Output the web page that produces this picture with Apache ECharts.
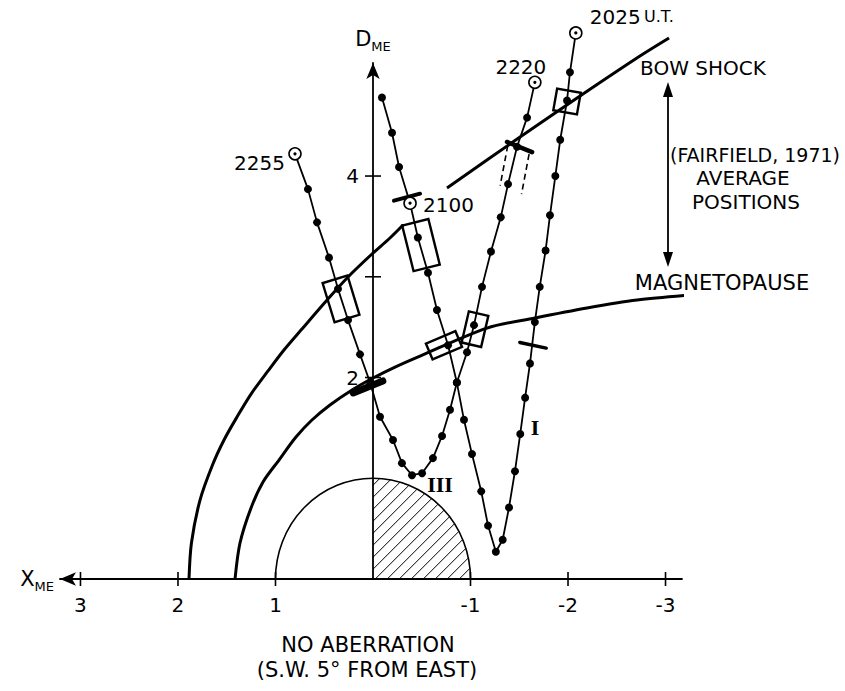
<!DOCTYPE html>
<html>
<head>
<meta charset="utf-8">
<script src="https://cdn.jsdelivr.net/npm/echarts@6.0.0/dist/echarts.min.js"></script>
<style>
html,body{margin:0;padding:0;background:#fff;}
#chart{width:845px;height:691px;}
</style>
</head>
<body>
<div id="chart"></div>
<script>
// ================= DATA (units: planet radii) =================
const xTickValues = [3, 2, 1, -1, -2, -3];
const yTickValues = [2, 3, 4];
const yLabelValues = [2, 4];

const planet = [[0, 0, 1]];  // centre X, centre D, radius

const bowShockLower = [[1.887,0],[1.862,0.357],[1.774,0.784],[1.646,1.132],[1.528,1.380],[1.395,1.608],
  [1.251,1.836],[1.077,2.065],[0.913,2.273],[0.738,2.471],[0.462,2.779],[0.256,2.998],[0.010,3.226],
  [-0.174,3.385],[-0.318,3.524]];
const bowShockUpper = [[-0.759,3.881],[-1.508,4.387],[-2.123,4.794],[-2.738,5.191],[-3.036,5.370]];
const magnetopause = [[1.415,0],[1.364,0.357],[1.251,0.705],[1.128,0.963],[0.964,1.181],[0.790,1.409],
  [0.626,1.578],[0.441,1.727],[0.215,1.876],[0.0,1.995],[-0.226,2.104],[-0.482,2.213],[-1.169,2.491],
  [-1.662,2.591],[-2.195,2.690],[-2.708,2.769],[-3.251,2.819]];

const trackI = [[-2.08,5.42],[-2.02,5.03],[-1.99,4.75],[-1.92,4.36],[-1.87,4.00],[-1.815,3.61],[-1.77,3.26],
  [-1.71,2.90],[-1.66,2.55],[-1.61,2.14],[-1.56,1.80],[-1.51,1.44],[-1.456,1.07],[-1.395,0.71],[-1.33,0.39],
  [-1.26,0.27],[-1.18,0.53],[-1.11,0.87],[-1.015,1.24],[-0.933,1.58],[-0.86,1.95],[-0.77,2.32],[-0.656,2.67],
  [-0.564,3.04],[-0.46,3.39],[-0.38,3.73],[-0.267,4.09],[-0.195,4.43],[-0.092,4.78]];
const trackIII = [[0.80,4.22],[0.667,3.87],[0.574,3.54],[0.451,3.19],[0.359,2.88],[0.256,2.57],[0.133,2.23],
  [0.03,1.95],[-0.072,1.61],[-0.205,1.38],[-0.297,1.15],[-0.40,1.03],[-0.503,1.05],[-0.615,1.20],[-0.708,1.42],
  [-0.79,1.68],[-0.86,1.95],[-0.964,2.25],[-1.036,2.52],[-1.118,2.90],[-1.21,3.25],[-1.31,3.59],[-1.385,3.92],
  [-1.477,4.29],[-1.58,4.58],[-1.66,4.93]];

const openCircles = [[-2.08,5.42],[-1.66,4.93],[0.80,4.22],[-0.38,3.73]];
const circleLabels = ['2025 U.T.', '2220', '2255', '2100'];

const crossingBoxes = [[0.328,2.78],[-0.492,3.315],[-1.99,4.74],[-0.728,2.32],[-1.046,2.48]];
const crossingBars = [[-0.349,3.79],[-1.641,2.32],[0.051,1.906],[-1.503,4.288]];

// ================= STYLE / LAYOUT =================
const FONT = 'DejaVu Sans';
const X_MIN = -3.169, X_MAX = 3.210, Y_MIN = 0, Y_MAX = 5.122;
const GRID = { left: 60, right: 163, top: 63, bottom: 112 };
const CHART_W = 845;
const gridW = CHART_W - GRID.left - GRID.right;
const yAxisOffset = -(X_MAX / (X_MAX - X_MIN)) * gridW;   // put the D axis at X = 0

const boxSizes = [[26,41],[27,47],[24,22],[32,17],[20,32]];
const boxAngles = [17, 14, -10, 23, -13];
const barLengths = [27, 27, 32, 27];
const barAngles = [15, -12, 22, -22];
const barWidths = [4, 3.5, 7, 4.5];
const barLegs = [null, null, null, [8, 40]];
const circleLabelPos = [[14,-16,'left'],[-14,-15,'center'],[-10,9,'right'],[13,2,'left']];

const isCircle = p => openCircles.some(c => c[0] === p[0] && c[1] === p[1]);

function planetRender(params, api) {
  const c = api.coord([api.value(0), api.value(1)]);
  const r = api.value(2);
  const left = api.coord([r, 0])[0], right = api.coord([-r, 0])[0];
  const rx = Math.abs(right - c[0]);
  const ry = Math.abs(api.coord([0, r])[1] - c[1]);
  const children = [{
    type: 'path',
    shape: { pathData: 'M ' + left + ' ' + c[1] + ' A ' + rx + ' ' + ry + ' 0 0 1 ' + right + ' ' + c[1] },
    style: { fill: 'none', stroke: '#000', lineWidth: 1.6 }
  }];
  const step = 12;
  for (let k = -ry + 7; k < rx; k += step) {
    let a0, b0;
    if (k >= 0) { a0 = k; b0 = 0; } else { a0 = 0; b0 = -k; }
    const A = 1/(rx*rx) + 1/(ry*ry), B = 2*k/(rx*rx), C = k*k/(rx*rx) - 1;
    const disc = B*B - 4*A*C;
    if (disc < 0) continue;
    const b1 = (-B + Math.sqrt(disc)) / (2*A), a1 = b1 + k;
    if (b1 <= b0 + 0.5) continue;
    children.push({ type: 'line', shape: { x1: c[0]+a0, y1: c[1]-b0, x2: c[0]+a1, y2: c[1]-b1 },
      style: { stroke: '#000', lineWidth: 1 } });
  }
  return { type: 'group', children: children };
}

function xTickRender(params, api) {
  const p = api.coord([api.value(0), api.value(1)]);
  return { type: 'line', shape: { x1: p[0], y1: p[1]-7, x2: p[0], y2: p[1]+7 }, style: { stroke: '#000', lineWidth: 1.6 } };
}
function yTickRender(params, api) {
  const p = api.coord([api.value(0), api.value(1)]);
  return { type: 'line', shape: { x1: p[0]-8, y1: p[1], x2: p[0]+8, y2: p[1] }, style: { stroke: '#000', lineWidth: 1.6 } };
}

function boxRender(params, api) {
  const i = params.dataIndex;
  const c = api.coord([api.value(0), api.value(1)]);
  const s = boxSizes[i];
  return { type: 'rect', x: c[0], y: c[1], rotation: boxAngles[i] * Math.PI / 180,
    shape: { x: -s[0]/2, y: -s[1]/2, width: s[0], height: s[1] },
    style: { fill: 'none', stroke: '#000', lineWidth: 2.4 } };
}

function barRender(params, api) {
  const i = params.dataIndex;
  const c = api.coord([api.value(0), api.value(1)]);
  const L = barLengths[i];
  const children = [{ type: 'line', shape: { x1: -L/2, y1: 0, x2: L/2, y2: 0 },
    style: { stroke: '#000', lineWidth: barWidths[i], lineCap: 'round' } }];
  const leg = barLegs[i];
  if (leg) {
    [-L/2 + 2, L/2 - 2].forEach(function (x0) {
      children.push({ type: 'line', shape: { x1: x0, y1: 3, x2: x0 + leg[0], y2: 3 + leg[1] },
        style: { stroke: '#000', lineWidth: 1.6, lineDash: [6, 4] } });
    });
  }
  return { type: 'group', x: c[0], y: c[1], rotation: barAngles[i] * Math.PI / 180, children: children };
}

function circleRender(params, api) {
  const i = params.dataIndex;
  const c = api.coord([api.value(0), api.value(1)]);
  const lp = circleLabelPos[i];
  const label = circleLabels[i];
  const parts = label.split(' ');
  const text = parts.length > 1 ? '{a|' + parts[0] + '} {b|' + parts.slice(1).join(' ') + '}' : '{a|' + label + '}';
  return { type: 'group', children: [
    { type: 'circle', shape: { cx: c[0], cy: c[1], r: 6 }, style: { fill: '#fff', stroke: '#000', lineWidth: 1.6 } },
    { type: 'circle', shape: { cx: c[0], cy: c[1], r: 1.6 }, style: { fill: '#000' } },
    { type: 'text', x: c[0] + lp[0], y: c[1] + lp[1], style: {
        text: text, align: lp[2], verticalAlign: 'middle', textAlign: lp[2], textVerticalAlign: 'middle',
        rich: { a: { fontFamily: FONT, fontSize: 20, fill: '#000', color: '#000' },
                b: { fontFamily: FONT, fontSize: 16, fill: '#000', color: '#000' } } } }
  ] };
}

const lineBase = { type: 'line', showSymbol: false, silent: true, clip: false, animation: false };
function dotSeries(arr, name) {
  return { type: 'scatter', name: name, data: arr.filter(function (p) { return !isCircle(p); }), symbol: 'circle', symbolSize: 8,
    itemStyle: { color: '#000', opacity: 1 }, silent: true, clip: false, z: 4, animation: false };
}

function txt(x, y, text, size, extra) {
  return { type: 'text', x: x, y: y, silent: true, style: Object.assign({
    text: text, font: size + 'px "' + FONT + '"', fill: '#000',
    align: 'center', verticalAlign: 'middle', textAlign: 'center', textVerticalAlign: 'middle' }, extra || {}) };
}

const chart = echarts.init(document.getElementById('chart'), null, { renderer: 'svg' });
chart.setOption({
  animation: false,
  backgroundColor: '#fff',
  grid: GRID,
  xAxis: {
    type: 'value', inverse: true, min: X_MIN, max: X_MAX,
    name: '{x|X}{s|ME}', nameLocation: 'end', nameGap: 6,
    nameTextStyle: { rich: { x: { fontFamily: FONT, fontSize: 21, lineHeight: 28, color: '#000' },
                             s: { fontFamily: FONT, fontSize: 13, lineHeight: 14, verticalAlign: 'bottom', color: '#000' } } },
    axisLine: { onZero: false, symbol: ['arrow', 'none'], symbolSize: [10, 16], lineStyle: { color: '#000', width: 1.8 } },
    axisTick: { show: false },
    splitLine: { show: false },
    axisLabel: { customValues: xTickValues, formatter: function (v) { return String(v); }, color: '#000', fontFamily: FONT, fontSize: 20, margin: 16 }
  },
  yAxis: {
    type: 'value', min: Y_MIN, max: Y_MAX, offset: yAxisOffset,
    name: '{d|D}{s|ME}', nameLocation: 'end', nameGap: 10,
    nameTextStyle: { rich: { d: { fontFamily: FONT, fontSize: 21, lineHeight: 28, color: '#000' },
                             s: { fontFamily: FONT, fontSize: 13, lineHeight: 14, verticalAlign: 'bottom', color: '#000' } } },
    axisLine: { onZero: false, symbol: ['none', 'arrow'], symbolSize: [10, 16], lineStyle: { color: '#000', width: 1.8 } },
    axisTick: { show: false },
    splitLine: { show: false },
    axisLabel: { customValues: yLabelValues, formatter: function (v) { return String(v); }, color: '#000', fontFamily: FONT, fontSize: 20, margin: 14 }
  },
  series: [
    { type: 'custom', name: 'planet', data: planet, renderItem: planetRender, encode: { x: 0, y: 1 }, clip: false, silent: true, z: 1 },
    { type: 'custom', name: 'xticks', data: xTickValues.map(function (v) { return [v, 0]; }), renderItem: xTickRender, encode: { x: 0, y: 1 }, clip: false, silent: true, z: 1 },
    { type: 'custom', name: 'yticks', data: yTickValues.map(function (v) { return [0, v]; }), renderItem: yTickRender, encode: { x: 0, y: 1 }, clip: false, silent: true, z: 1 },
    Object.assign({}, lineBase, { name: 'Bow shock', data: bowShockLower, smooth: 0.3, lineStyle: { color: '#000', width: 3 }, z: 2 }),
    Object.assign({}, lineBase, { name: 'Bow shock (outer)', data: bowShockUpper, smooth: 0.3, lineStyle: { color: '#000', width: 3 }, z: 2 }),
    Object.assign({}, lineBase, { name: 'Magnetopause', data: magnetopause, smooth: 0.3, lineStyle: { color: '#000', width: 3 }, z: 2 }),
    Object.assign({}, lineBase, { name: 'I', data: trackI, lineStyle: { color: '#000', width: 1.8 }, z: 3 }),
    Object.assign({}, lineBase, { name: 'III', data: trackIII, lineStyle: { color: '#000', width: 1.8 }, z: 3 }),
    dotSeries(trackI, 'I points'),
    dotSeries(trackIII, 'III points'),
    { type: 'custom', name: 'boxes', data: crossingBoxes, renderItem: boxRender, encode: { x: 0, y: 1 }, clip: false, silent: true, z: 5 },
    { type: 'custom', name: 'bars', data: crossingBars, renderItem: barRender, encode: { x: 0, y: 1 }, clip: false, silent: true, z: 5 },
    { type: 'custom', name: 'times', data: openCircles, renderItem: circleRender, encode: { x: 0, y: 1 }, clip: false, silent: true, z: 6 }
  ],
  graphic: { elements: [
    txt(703, 68, 'BOW SHOCK', 20),
    { type: 'line', silent: true, shape: { x1: 668, y1: 92, x2: 668, y2: 257 }, style: { stroke: '#000', lineWidth: 1.8 } },
    { type: 'polygon', silent: true, shape: { points: [[668, 82], [663, 97], [673, 97]] }, style: { fill: '#000' } },
    { type: 'polygon', silent: true, shape: { points: [[668, 267], [663, 252], [673, 252]] }, style: { fill: '#000' } },
    txt(755, 155, '(FAIRFIELD, 1971)', 19),
    txt(743, 178, 'AVERAGE', 20),
    txt(746, 202, 'POSITIONS', 20),
    txt(722, 283, 'MAGNETOPAUSE', 21),
    txt(535, 427, 'I', 22, { font: 'bold 22px "Liberation Serif"' }),
    txt(440, 484, 'III', 22, { font: 'bold 22px "Liberation Serif"' }),
    txt(368, 645, 'NO ABERRATION', 21),
    txt(367, 670, '(S.W. 5\u00B0 FROM EAST)', 21)
  ] }
});
</script>
</body>
</html>
